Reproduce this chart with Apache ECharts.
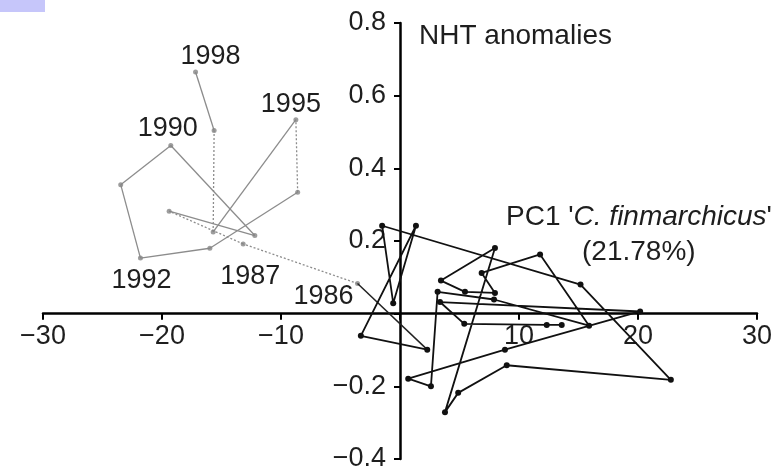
<!DOCTYPE html>
<html>
<head>
<meta charset="utf-8">
<script src="https://cdn.jsdelivr.net/npm/echarts@6/dist/echarts.min.js"></script>
<style>
  html, body { margin: 0; padding: 0; background: #fff; }
  #chart { width: 778px; height: 469px; }
</style>
</head>
<body>
<div id="chart"></div>
<script>
// Trajectory 1986–1998 (grey), with years
const grayYears = [1986, 1987, 1988, 1989, 1990, 1991, 1992, 1993, 1994, 1995, 1996, 1997, 1998];
const grayX = [-3.57, -13.18, -19.40, -12.20, -19.26, -23.47, -21.81, -15.98, -8.60, -8.75, -15.70, -15.62, -17.18];
const grayY = [0.083, 0.192, 0.282, 0.215, 0.463, 0.355, 0.153, 0.180, 0.334, 0.534, 0.225, 0.504, 0.665];
const labelledYears = [1986, 1987, 1990, 1992, 1995, 1998];

// Earlier trajectory (black), in time order, ending just before 1986
const blackX = [13.59, 12.33, 5.40, 3.36, 20.18, 8.82, 0.69, 2.60, 3.16, 7.90, 15.89, 11.77, 6.86, 7.98, 5.46, 3.44, 7.98, 3.78, 4.89, 8.97, 22.76, 15.17, -1.50, -0.57, 1.34, -3.29, 2.29];
const blackY = [-0.031, -0.031, -0.028, 0.032, 0.006, -0.099, -0.179, -0.200, 0.060, 0.039, -0.033, 0.163, 0.112, 0.057, 0.060, 0.091, 0.181, -0.271, -0.218, -0.142, -0.182, 0.080, 0.242, 0.029, 0.242, -0.061, -0.099];

// Axis ranges, ticks and their labels
const xRange = [-30, 30];
const yRange = [-0.4, 0.8];
const xTicks = [-30, -20, -10, 10, 20, 30];
const xTickLabels = ['\u221230', '\u221220', '\u221210', '10', '20', '30'];
const yTicks = [-0.4, -0.2, 0.2, 0.4, 0.6, 0.8];
const yTickLabels = ['\u22120.4', '\u22120.2', '0.2', '0.4', '0.6', '0.8'];

// Styling of the grey path
const dottedFrom = [0, 1, 8, 10];   // segments drawn dotted, by starting index
const labelOffsets = {
  1986: [-34, 13], 1987: [7, 33], 1990: [-3, -17],
  1992: [1, 22], 1995: [-5, -15], 1998: [15, -16]
};

const FONT = "'Liberation Sans', Arial, Helvetica, sans-serif";
const TEXT = '#1e1e1e';

// Plot area
const W = 778, H = 469;
const G = { left: 43, right: 21, top: 23, bottom: 10 };
const plotW = W - G.left - G.right;
const plotH = H - G.top - G.bottom;
// Shift the axes so they cross at the origin, carrying their labels along
const xAxisOffset = -plotH * (0 - yRange[0]) / (yRange[1] - yRange[0]);
const yAxisOffset = -plotW * (0 - xRange[0]) / (xRange[1] - xRange[0]);

function tickLabel(ticks, labels) {
  return function (v) {
    for (let i = 0; i < ticks.length; i++) {
      if (Math.abs(v - ticks[i]) < 1e-6) return labels[i];
    }
    return '';
  };
}

const grayPts = grayX.map((x, i) => [x, grayY[i]]);
const blackPts = blackX.map((x, i) => [x, blackY[i]]);

const graySegments = [];
for (let i = 0; i < grayPts.length - 1; i++) {
  graySegments.push({
    coords: [grayPts[i], grayPts[i + 1]],
    lineStyle: { type: dottedFrom.includes(i) ? [2, 2] : 'solid' }
  });
}

const grayPointData = grayPts.map((p, i) => {
  const yr = grayYears[i];
  const item = { value: p };
  if (labelledYears.includes(yr)) {
    item.label = { show: true, offset: labelOffsets[yr], formatter: String(yr) };
  }
  return item;
});

const chart = echarts.init(document.getElementById('chart'), null, { renderer: 'canvas' });

chart.setOption({
  animation: false,
  backgroundColor: '#fff',
  grid: {
    left: G.left, right: G.right, top: G.top, bottom: G.bottom,
    containLabel: false, outerBoundsMode: 'none'
  },
  xAxis: {
    type: 'value', min: xRange[0], max: xRange[1], interval: 10,
    position: 'bottom', offset: xAxisOffset,
    axisLine: { onZero: false, lineStyle: { color: '#000', width: 2.5 } },
    axisTick: { show: true, length: 6, lineStyle: { color: '#000', width: 2 } },
    axisLabel: {
      formatter: tickLabel(xTicks, xTickLabels),
      fontSize: 27, fontFamily: FONT, color: TEXT, margin: 9,
      showMinLabel: true, showMaxLabel: true, hideOverlap: false
    },
    splitLine: { show: false }
  },
  yAxis: {
    type: 'value', min: yRange[0], max: yRange[1], interval: 0.2,
    position: 'left', offset: yAxisOffset,
    axisLine: { onZero: false, lineStyle: { color: '#000', width: 2.5 } },
    axisTick: { show: true, length: 6, lineStyle: { color: '#000', width: 2 } },
    axisLabel: {
      formatter: tickLabel(yTicks, yTickLabels),
      fontSize: 27, fontFamily: FONT, color: TEXT, margin: 14,
      showMinLabel: true, showMaxLabel: true, hideOverlap: false
    },
    splitLine: { show: false }
  },
  graphic: [
    { type: 'rect', left: 0, top: 0, shape: { width: 45, height: 12 }, style: { fill: '#c6c6fa' } },
    {
      type: 'text', left: 419, top: 22,
      style: { text: 'NHT anomalies', fontSize: 28, fontFamily: FONT, fill: TEXT }
    },
    {
      type: 'text', left: 506, top: 203,
      style: {
        text: "{n|PC1 '}{i|C. finmarchicus}{n|'}",
        rich: {
          n: { fontSize: 28, fontFamily: FONT, fill: TEXT, color: TEXT },
          i: { fontSize: 28, fontFamily: FONT, fontStyle: 'italic', fill: TEXT, color: TEXT }
        }
      }
    },
    {
      type: 'text', left: 582, top: 238,
      style: { text: '(21.78%)', fontSize: 28, fontFamily: FONT, fill: TEXT }
    }
  ],
  series: [
    {
      name: 'grey path',
      type: 'lines',
      coordinateSystem: 'cartesian2d',
      polyline: false,
      silent: true,
      z: 2,
      lineStyle: { color: '#8c8c8c', width: 1.3, opacity: 1 },
      data: graySegments
    },
    {
      name: 'grey years',
      type: 'scatter',
      symbol: 'circle',
      symbolSize: 5,
      z: 3,
      itemStyle: { color: '#858585' },
      label: {
        show: false,
        position: 'inside',
        fontSize: 27,
        fontFamily: FONT,
        color: TEXT,
        textBorderWidth: 0,
        opacity: 1
      },
      data: grayPointData
    },
    {
      name: 'link',
      type: 'line',
      showSymbol: false,
      z: 4,
      lineStyle: { color: '#222', width: 1.5 },
      data: [blackPts[blackPts.length - 1], grayPts[0]]
    },
    {
      name: 'black path',
      type: 'line',
      symbol: 'circle',
      symbolSize: 6,
      z: 5,
      itemStyle: { color: '#111' },
      lineStyle: { color: '#111', width: 1.8 },
      data: blackPts
    }
  ]
});
</script>
</body>
</html>
